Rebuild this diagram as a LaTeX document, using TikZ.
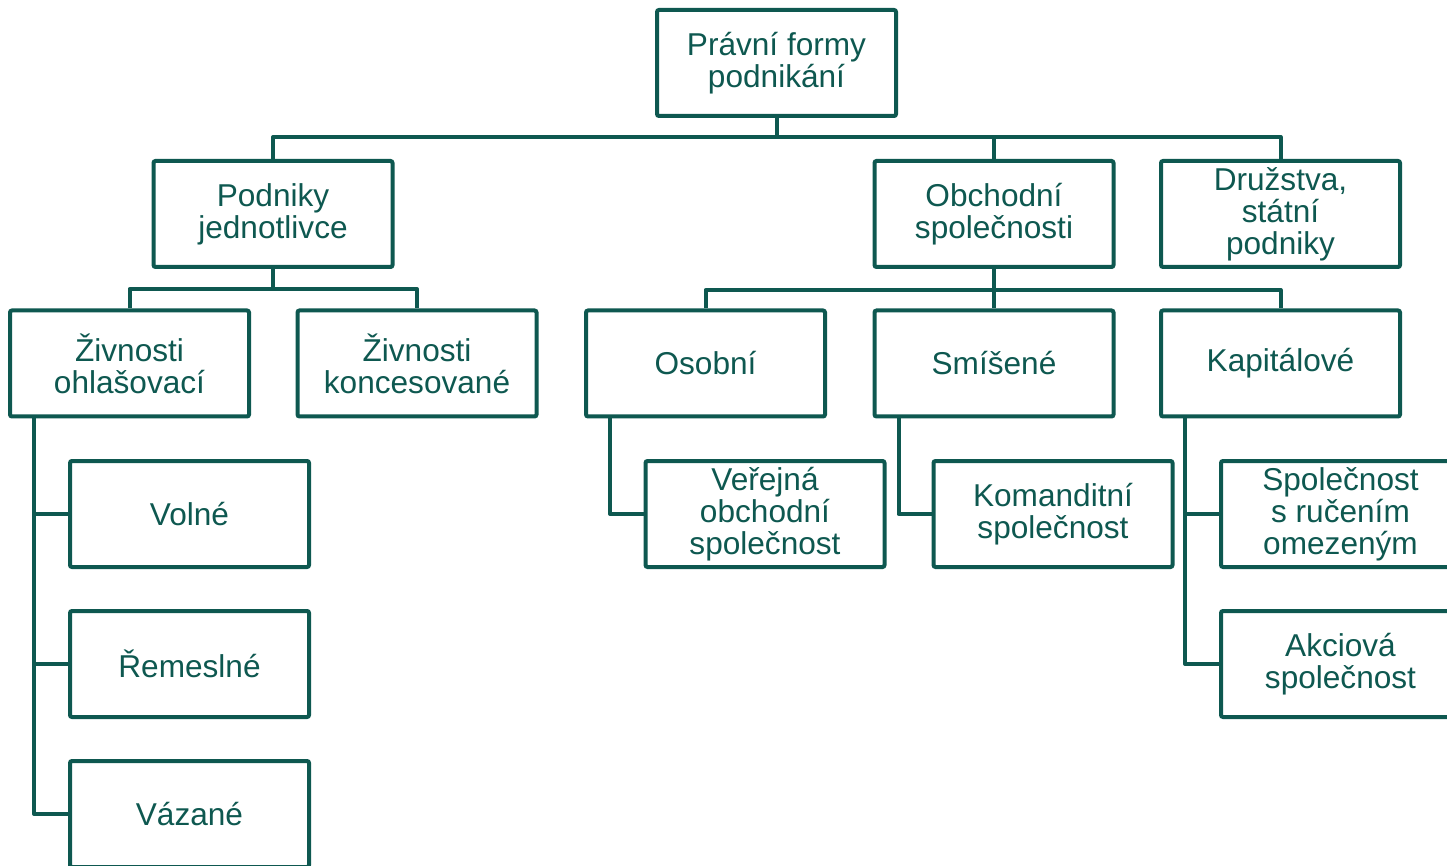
\documentclass[tikz,border=0pt]{standalone}
\usepackage{fontspec}
\setmainfont{Liberation Sans}
\definecolor{zelena}{RGB}{14,88,80}
\tikzset{
  box/.style={draw=zelena, line width=2pt, rounded corners=1pt, text=zelena,
    minimum width=119.5pt, minimum height=53pt, inner sep=0pt, align=center,
    font=\fontsize{15.8}{16}\selectfont},
  spoj/.style={draw=zelena, line width=2pt, line join=round},
}
\begin{document}
\begin{tikzpicture}[x=0.5pt,y=-0.5pt]
    \clip (0,0) rectangle (1447,866);
    % Koren
    \node[box] (root) at (776.5,63) {Právní formy\\podnikání};
    % Prvni uroven
    \node[box] (podn) at (273,214) {Podniky\\jednotlivce};
    \node[box] (obch) at (994,214) {Obchodní\\společnosti};
    \node[box] (druz) at (1280.5,214) {Družstva,\\státní\\podniky};
    % Druha uroven
    \node[box] (ohl) at (129.5,363.5) {Živnosti\\ohlašovací};
    \node[box] (konc) at (417,363.5) {Živnosti\\koncesované};
    \node[box] (osob) at (705.5,363.5) {Osobní};
    \node[box] (smis) at (994,363.5) {Smíšené};
    \node[box] (kap) at (1280.5,363.5) {Kapitálové};
    % Treti uroven
    \node[box] (voln) at (189.5,514) {Volné};
    \node[box] (rem) at (189.5,664) {Řemeslné};
    \node[box] (vaz) at (189.5,814) {Vázané};
    \node[box] (vos) at (765,514) {Veřejná\\obchodní\\společnost};
    \node[box] (kom) at (1053,514) {Komanditní\\společnost};
    \node[box] (sro) at (1340.5,514) {Společnost\\s ručením\\omezeným};
    \node[box] (akc) at (1340.5,664) {Akciová\\společnost};
    % Sbernice
    \coordinate (b1) at (776.5,137);
    \coordinate (b2) at (273,289);
    \coordinate (b3) at (994,290);
    \draw[spoj] (root.south) -- (b1);
    \draw[spoj] (podn.north) |- (b1) -| (druz.north);
    \draw[spoj] (obch.north) -- (obch.north |- b1);
    \draw[spoj] (podn.south) -- (b2);
    \draw[spoj] (ohl.north) |- (b2) -| (konc.north);
    \draw[spoj] (obch.south) -- (smis.north);
    \draw[spoj] (osob.north) |- (b3) -| (kap.north);
    % Svisle vetve
    \coordinate (l1) at ([xshift=13pt]ohl.south west);
    \coordinate (l2) at ([xshift=13pt]osob.south west);
    \coordinate (l3) at ([xshift=13pt]smis.south west);
    \coordinate (l4) at ([xshift=13pt]kap.south west);
    \draw[spoj] (l1) |- (vaz.west);
    \foreach \n in {voln,rem}
        \draw[spoj] (l1 |- \n.west) -- (\n.west);
    \draw[spoj] (l2) |- (vos.west);
    \draw[spoj] (l3) |- (kom.west);
    \draw[spoj] (l4) |- (akc.west);
    \draw[spoj] (l4 |- sro.west) -- (sro.west);
\end{tikzpicture}
\end{document}
